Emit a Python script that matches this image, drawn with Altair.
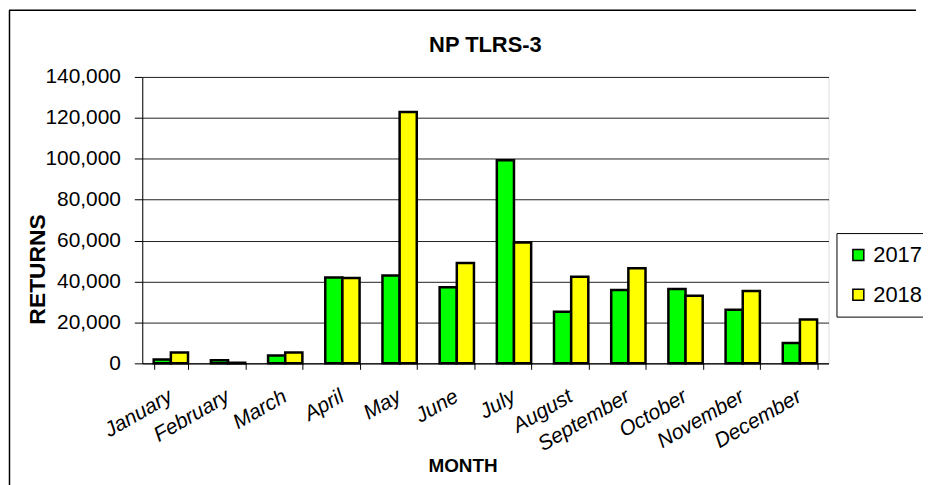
import altair as alt
import pandas as pd

months = ["January", "February", "March", "April", "May", "June", "July",
          "August", "September", "October", "November", "December"]
years = ["2017", "2018"]
returns_2017 = [1900, 1500, 3800, 42000, 43000, 37200, 99300, 25200, 35900, 36300, 26200, 10000]
returns_2018 = [5300, 300, 5300, 41700, 122900, 49000, 59100, 42300, 46500, 33000, 35400, 21400]
y_ticks = [0, 20000, 40000, 60000, 80000, 100000, 120000, 140000]

rows = []
for m, a, b in zip(months, returns_2017, returns_2018):
    rows.append({"month": m, "year": years[0], "returns": a})
    rows.append({"month": m, "year": years[1], "returns": b})
df = pd.DataFrame(rows)

FONT = "Liberation Sans"

bars = alt.Chart(df).mark_bar(stroke="black", strokeWidth=2.5).encode(
    x=alt.X(
        "month:N", sort=months,
        scale=alt.Scale(paddingInner=0.4, paddingOuter=0.2),
        axis=alt.Axis(
            title="MONTH", titleFont=FONT, titleFontSize=19, titleFontWeight="bold",
            titleColor="black", titleX=322, titleY=103, titleAlign="center",
            titleBaseline="middle", titleAngle=0,
            labelAngle=330, labelAlign="right", labelBaseline="top",
            labelFont=FONT, labelFontStyle="italic", labelFontSize=21, labelColor="black",
            labelPadding=16, labelOffset=-6, tickBand="extent", tickSize=6, tickColor="black",
            domainColor="black", domainWidth=1, grid=False,
        ),
    ),
    xOffset=alt.XOffset("year:N", sort=years, scale=alt.Scale(paddingInner=0, paddingOuter=0)),
    y=alt.Y(
        "returns:Q",
        scale=alt.Scale(domain=[0, 140000], nice=False),
        axis=alt.Axis(
            values=y_ticks, format=",d", title="RETURNS",
            titleFont=FONT, titleFontSize=23, titleFontWeight="bold", titleColor="black",
            titleAngle=270, titleX=-105, titleY=193, titleAlign="center",
            titleBaseline="middle",
            labelFont=FONT, labelFontSize=21, labelColor="black", labelPadding=14,
            tickSize=8, tickColor="black", domainColor="black", domainWidth=1,
            grid=True, gridColor="#222222", gridWidth=1,
        ),
    ),
    color=alt.Color(
        "year:N",
        scale=alt.Scale(domain=years, range=["#00FF00", "#FFFF00"]),
        legend=alt.Legend(
            title=None, orient="none", legendX=698, legendY=157,
            padding=11, strokeColor="black", fillColor="white",
            symbolType="square", symbolSize=121, symbolStrokeColor="black",
            symbolStrokeWidth=1.5, labelFont=FONT, labelFontSize=22,
            labelColor="black", labelOffset=4, rowPadding=18,
        ),
    ),
)

frame_df = pd.DataFrame({"k": [0]})
top_border = alt.Chart(frame_df).mark_rule(color="black", strokeWidth=1.5).encode(
    x=alt.value(-134), x2=alt.value(778), y=alt.value(-67)
)
left_border = alt.Chart(frame_df).mark_rule(color="black", strokeWidth=1.5).encode(
    x=alt.value(-133.5), y=alt.value(-67), y2=alt.value(412)
)

chart = alt.layer(bars, top_border, left_border).properties(
    width=690, height=288,
    title=alt.TitleParams(
        "NP TLRS-3", font=FONT, fontSize=22, fontWeight="bold", color="black",
        anchor="middle", frame="group", baseline="alphabetic", offset=0, dy=65,
    ),
    autosize=alt.AutoSizeParams(type="none"),
    padding={"left": 135, "top": 68, "right": 95, "bottom": 121},
).configure_view(stroke="black", strokeWidth=1).configure(background="white")

chart.save("out.html", embed_options={"renderer": "svg", "actions": False})
